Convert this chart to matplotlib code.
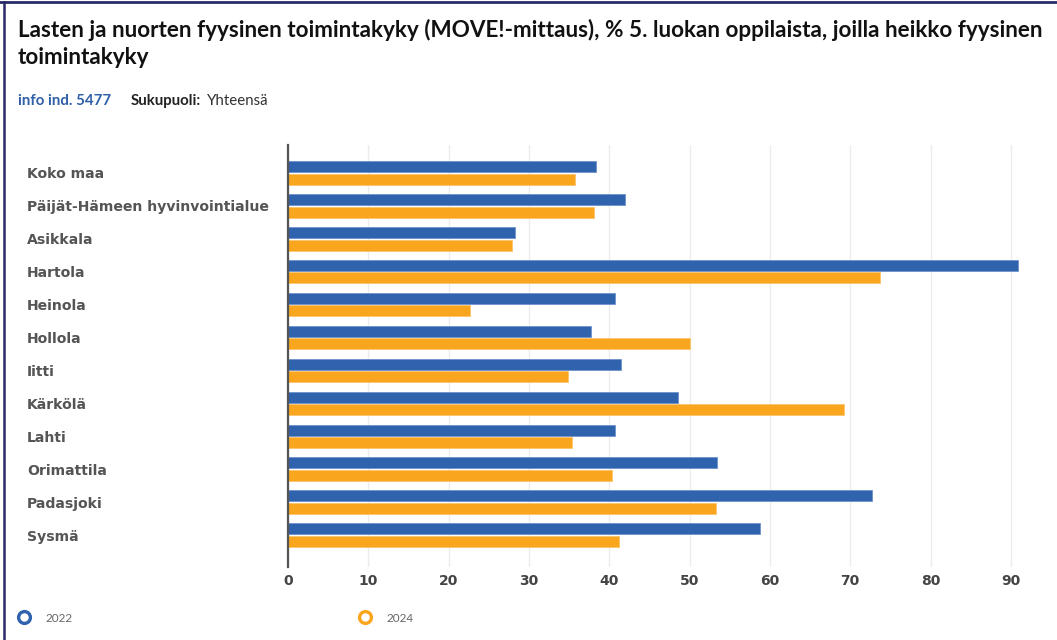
import numpy as np
import matplotlib
matplotlib.use("Agg")
import matplotlib.pyplot as plt
from matplotlib.lines import Line2D

categories = ["Koko maa", "Päijät-Hämeen hyvinvointialue", "Asikkala", "Hartola",
              "Heinola", "Hollola", "Iitti", "Kärkölä", "Lahti", "Orimattila",
              "Padasjoki", "Sysmä"]
values_2022 = [38.3, 41.9, 28.3, 90.9, 40.7, 37.7, 41.5, 48.5, 40.7, 53.4, 72.7, 58.8]
values_2024 = [35.7, 38.1, 27.9, 73.7, 22.6, 50.0, 34.8, 69.2, 35.3, 40.3, 53.3, 41.2]
series_names = ["2022", "2024"]
x_ticks = [0, 10, 20, 30, 40, 50, 60, 70, 80, 90]

blue = "#3063ad"
orange = "#f9a61e"

fig = plt.figure(figsize=(10.57, 6.4), dpi=100)
ax = fig.add_axes([0.2725, 0.1141, 0.699, 0.6594])

y = np.arange(len(categories))
ax.barh(y - 0.19, values_2022, height=0.335, color=blue, edgecolor="#6f93cc", linewidth=0.6, zorder=3)
ax.barh(y + 0.19, values_2024, height=0.335, color=orange, edgecolor="#fbc46a", linewidth=0.6, zorder=3)

ax.set_xlim(0, 92)
ax.set_ylim(11.97, -0.85)
ax.set_xticks(x_ticks)
ax.set_xticklabels([str(t) for t in x_ticks], fontsize=10, fontweight="bold",
                   color="#444444", family="DejaVu Sans")
ax.set_yticks(y)
ax.set_yticklabels(categories, fontsize=10.1, fontweight="bold", color="#555555",
                   family="DejaVu Sans", ha="left")
ax.tick_params(axis="y", length=0, pad=188)
ax.tick_params(axis="x", length=0, pad=5)
ax.grid(axis="x", color="#ececec", linewidth=1, zorder=0)

for s in ["top", "right", "bottom"]:
    ax.spines[s].set_visible(False)
ax.spines["left"].set_color("#555555")
ax.spines["left"].set_linewidth(1.6)
ax.spines["left"].set_zorder(4)

# title and info line
fig.text(18 / 1057, 1 - 30 / 640, "Lasten ja nuorten fyysinen toimintakyky (MOVE!-mittaus), % 5. luokan oppilaista, joilla heikko fyysinen",
         fontsize=16.2, fontweight="bold", family="Lato", color="#111111", va="center")
fig.text(18 / 1057, 1 - 57 / 640, "toimintakyky",
         fontsize=16.2, fontweight="bold", family="Lato", color="#111111", va="center")
fig.text(18 / 1057, 1 - 101 / 640, "info ind. 5477", fontsize=10.8, fontweight="bold",
         family="Lato", color="#2f5fa8", va="center")
fig.text(131 / 1057, 1 - 101 / 640, "Sukupuoli:", fontsize=10.8, fontweight="bold",
         family="Lato", color="#222222", va="center")
fig.text(207 / 1057, 1 - 101 / 640, "Yhteensä", fontsize=10.8,
         family="Lato", color="#333333", va="center")

# legend
leg_x = [17 / 1057, 358 / 1057]
for name, col, lx in zip(series_names, [blue, orange], leg_x):
    h = Line2D([], [], marker="o", linestyle="none", markersize=8.5,
               markerfacecolor="white", markeredgecolor=col, markeredgewidth=2.4)
    lg = fig.legend([h], [name], loc="center left", bbox_to_anchor=(lx, 1 - 618 / 640),
                    frameon=False, handletextpad=1.25, borderpad=0, borderaxespad=0,
                    handlelength=1.2, prop={"family": "Lato", "size": 8.5})
    for t in lg.get_texts():
        t.set_color("#666666")

# frame lines (top and left)
fig.add_artist(Line2D([0, 1], [1 - 2 / 640, 1 - 2 / 640], color="#2b2b6b", linewidth=2,
                      transform=fig.transFigure))
fig.add_artist(Line2D([4 / 1057, 4 / 1057], [0, 1 - 2 / 640], color="#2b2b6b", linewidth=1.8,
                      transform=fig.transFigure))

fig.savefig("out.png", dpi=100)
